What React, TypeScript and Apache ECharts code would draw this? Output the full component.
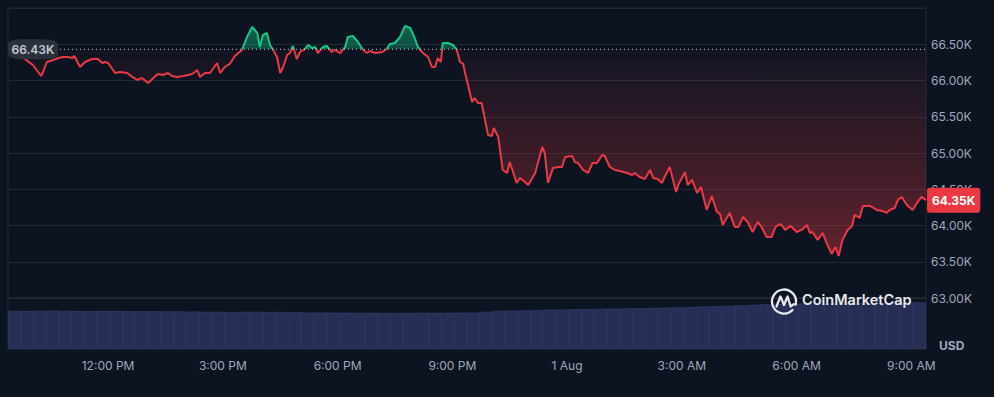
import React, { useEffect, useRef } from "react";
import * as echarts from "echarts";

// minutes after 9:00 AM, 31 Jul
const times = [
  23, 39, 55, 62, 75, 78, 84, 94, 102, 109, 117, 124, 127, 136, 144, 155, 164, 171, 175, 180,
  191, 199, 210, 218, 226, 233, 243, 251, 258, 266, 274, 280, 288, 298, 312, 320, 324, 332, 340, 351,
  356, 363, 371, 379, 390,
  398, 406, 414, 418, 423, 429, 434, 439, 445, 450, 454, 461, 465, 470, 476, 481, 489, 494, 500, 505,
  509, 517, 523, 531, 536, 544, 552, 556, 564, 572, 580, 586, 591, 599, 610, 617, 622, 630, 638, 646,
  654, 661, 666, 674, 682, 688, 693, 697, 702, 705, 713, 721, 727, 732, 737, 740,
  751, 755, 760, 766, 776, 782, 785, 792, 799, 806, 810, 821, 826, 834, 839, 850, 861, 865, 870, 878,
  886, 892, 897, 908, 912, 917, 925, 933, 940, 947, 955, 959, 967, 975, 983, 994, 1002, 1006, 1014, 1022,
  1030, 1035, 1042, 1049, 1053, 1061, 1071, 1075, 1085, 1089, 1096, 1104, 1110, 1119, 1127, 1135, 1140, 1144, 1155, 1163,
  1169, 1176, 1184, 1191, 1199, 1205, 1213, 1221, 1227, 1235, 1242, 1251, 1260, 1268, 1276, 1281, 1285, 1293, 1301, 1307,
  1315, 1321, 1326, 1332, 1340, 1347, 1351, 1359, 1364, 1375, 1386, 1394, 1401, 1406, 1414, 1419, 1425, 1433, 1442, 1450,
  1456, 1463,
];

const prices = [
  66430, 66366, 66260, 66214, 66062, 66117, 66255, 66283, 66310, 66324, 66324, 66310, 66338, 66186, 66255, 66297, 66297, 66242, 66255, 66242,
  66104, 66117, 66104, 66049, 66007, 66035, 65966, 66035, 66090, 66076, 66104, 66062, 66049, 66062, 66090, 66145, 66049, 66104, 66104, 66242,
  66104, 66186, 66230, 66338, 66421,
  66600, 66738, 66655, 66462, 66628, 66655, 66490, 66421, 66324, 66104, 66173, 66352, 66379, 66476, 66297, 66393, 66435, 66490, 66448, 66462,
  66379, 66462, 66476, 66393, 66421, 66379, 66462, 66600, 66614, 66531, 66421, 66379, 66407, 66379, 66393, 66435, 66504, 66517, 66600, 66752,
  66724, 66586, 66462, 66379, 66324, 66186, 66186, 66310, 66255, 66517, 66517, 66490, 66421, 66255, 66228, 66104,
  65704, 65759, 65690, 65690, 65248, 65235, 65345, 65221, 64766, 64725, 64876, 64587, 64656, 64600, 64559, 64725, 65083, 65000, 64587, 64794,
  64807, 64807, 64945, 64959, 64876, 64863, 64766, 64725, 64863, 64863, 64973, 64959, 64807, 64766, 64752, 64725, 64697, 64725, 64669, 64642,
  64766, 64656, 64642, 64587, 64669, 64807, 64463, 64573, 64738, 64559, 64628, 64449, 64532, 64214, 64407, 64187, 64159, 64007, 64173, 63980,
  63980, 64118, 64035, 63911, 64049, 63980, 63842, 63842, 63980, 64021, 63939, 63994, 63911, 63939, 64007, 63897, 63911, 63801, 63897, 63760,
  63608, 63704, 63580, 63801, 63939, 63994, 64145, 64104, 64270, 64270, 64214, 64201, 64173, 64214, 64242, 64352, 64394, 64283, 64214, 64325,
  64394, 64350,
];

const baselinePrice = 66430;

// 24h volume (billion USD), one bar per 20 minutes
const volumes = [
  29.9, 29.8, 29.9, 30.0, 29.9, 29.8, 29.7, 29.8, 29.8, 29.7, 29.6, 29.6, 29.5, 29.5, 29.4,
  29.2, 29.1, 29.0, 29.1, 29.2, 29.0, 28.9, 28.8,
  28.6, 28.6, 28.5, 28.5, 28.4, 28.4, 28.3, 28.3, 28.3, 28.4, 28.4, 28.5, 28.5, 28.6, 29.2,
  29.9, 30.1, 30.3, 30.6, 30.9, 31.0, 31.2, 31.3, 31.5, 31.7, 31.8, 32.0, 32.2, 32.4, 32.6, 32.9,
  33.3, 33.6, 33.9, 34.2, 34.6, 35.0, 35.3, 35.5, 35.7, 35.8, 35.9, 36.0, 36.1, 36.2, 36.3, 36.4, 36.5, 36.6,
];

// x-axis tick positions (minutes after 9:00 AM, 31 Jul) and their labels
const tickMinutes = [180, 360, 540, 720, 900, 1080, 1260, 1440];
const tickLabels = ["12:00 PM", "3:00 PM", "6:00 PM", "9:00 PM", "1 Aug", "3:00 AM", "6:00 AM", "9:00 AM"];

const GREEN = "#16c784";
const RED = "#ea3943";
const BG = "#0d1421";
const LABEL = "#a1a7bb";
const GRIDLINE = "#222935";

const fmtK = (v: number) => (v / 1000).toFixed(2) + "K";

const logoPath =
  "M 8.5 8.5 A 12 12 0 1 1 11.6 3.1 M -7.5 5 L -3.6 -5 L 0 3.5 L 3.6 -5 L 6.6 5 L 9.8 2.6";

export default function App() {
  const ref = useRef<HTMLDivElement>(null);

  useEffect(() => {
    if (!ref.current) return;
    try {
      echarts.graphic.registerShape("cmclogo", echarts.graphic.extendPath(logoPath, {}) as any);
    } catch (e) {}
    const chart = echarts.init(ref.current, null, { renderer: "svg" });

    const n = Math.min(times.length, prices.length);
    const ps = prices.slice(0, n);
    const priceData = [];
    for (let i = 0; i < n; i++) priceData.push([times[i], prices[i]]);
    const xMin = times[0];
    const xMax = times[n - 1];

    const lineMax = Math.max(...ps);
    const lineMin = Math.min(...ps);
    const lineOff = (lineMax - baselinePrice) / (lineMax - lineMin);
    const lineColor = new echarts.graphic.LinearGradient(0, 0, 0, 1, [
      { offset: 0, color: GREEN },
      { offset: lineOff, color: GREEN },
      { offset: lineOff, color: RED },
      { offset: 1, color: RED },
    ]);

    const areaMax = Math.max(lineMax, baselinePrice);
    const areaMin = Math.min(lineMin, baselinePrice);
    const off = (areaMax - baselinePrice) / (areaMax - areaMin);
    const areaColor = new echarts.graphic.LinearGradient(0, 0, 0, 1, [
      { offset: 0, color: "rgba(22,199,132,0.45)" },
      { offset: off, color: "rgba(22,199,132,0.32)" },
      { offset: off, color: "rgba(234,57,67,0.02)" },
      { offset: 1, color: "rgba(234,57,67,0.38)" },
    ]);

    chart.setOption({
      animation: false,
      backgroundColor: BG,
      textStyle: { fontFamily: "Inter, 'Noto Sans', sans-serif" },
      grid: [
        { left: 8, right: 68, top: 8, bottom: 99, show: true, borderColor: GRIDLINE, borderWidth: 1 },
        { left: 8, right: 68, top: 298, bottom: 48, show: true, borderColor: GRIDLINE, borderWidth: 1 },
      ],
      xAxis: [
        {
          type: "value", gridIndex: 0, min: xMin, max: xMax,
          axisLine: { show: false }, axisTick: { show: false }, axisLabel: { show: false }, splitLine: { show: false },
        },
        {
          type: "value", gridIndex: 1, min: xMin, max: xMax,
          axisLine: { show: false }, axisTick: { show: false }, splitLine: { show: false },
          axisLabel: {
            customValues: tickMinutes,
            formatter: (v: number) => {
              const i = tickMinutes.indexOf(v);
              return i >= 0 ? tickLabels[i] : "";
            },
            color: LABEL, fontSize: 12, margin: 10,
          },
        },
        {
          type: "category", gridIndex: 1, data: volumes.map((_, i) => String(i)),
          show: false, boundaryGap: true,
        },
      ],
      yAxis: [
        {
          type: "value", gridIndex: 0, position: "right", min: 63000, max: 67000, interval: 500,
          axisLine: { show: false }, axisTick: { show: false },
          splitLine: { lineStyle: { color: GRIDLINE, width: 1 } },
          axisLabel: { formatter: fmtK, color: LABEL, fontSize: 12, margin: 5, showMaxLabel: false },
        },
        {
          type: "value", gridIndex: 1, min: 0, max: 40, show: false,
        },
      ],
      series: [
        {
          type: "line", xAxisIndex: 0, yAxisIndex: 0, data: priceData, z: 3,
          showSymbol: false, symbol: "none",
          lineStyle: { width: 2, color: lineColor },
          itemStyle: { color: RED },
          areaStyle: { origin: baselinePrice, color: areaColor, opacity: 1 },
          endLabel: {
            show: true,
            formatter: (p: any) => fmtK(p.value[1]),
            backgroundColor: RED, color: "#ffffff", fontWeight: "bold", fontSize: 12,
            padding: [7, 5, 6, 5], borderRadius: 3, distance: 1,
          },
        },
        {
          type: "line", xAxisIndex: 0, yAxisIndex: 0, z: 4,
          data: [[xMin, baselinePrice], [xMax, baselinePrice]],
          showSymbol: false, symbol: "none", silent: true,
          lineStyle: { color: "rgba(255,255,255,0.75)", width: 1, type: [1, 3] },
          markPoint: {
            symbol: "roundRect", symbolSize: [50, 20], symbolOffset: [25, 0], silent: true,
            itemStyle: { color: "rgba(44,49,62,0.95)" },
            label: { show: true, position: "inside", formatter: fmtK(baselinePrice), color: "#c4c8d2", fontSize: 12, fontWeight: 600 },
            data: [{ coord: [xMin, baselinePrice] }],
          },
        },
        {
          type: "bar", xAxisIndex: 2, yAxisIndex: 1, data: volumes, z: 1,
          barCategoryGap: "0%", silent: true,
          itemStyle: { color: "#272e55", borderColor: "rgba(62,72,122,0.8)", borderWidth: 0.6 },
        },
      ],
      graphic: [
        {
          type: "cmclogo", x: 784, y: 301.5, silent: true, z: 10,
          style: { stroke: "#e6e8ee", fill: null, lineWidth: 2.3, lineCap: "round", lineJoin: "round" },
        },
        {
          type: "text", left: 802, top: 292, silent: true, z: 10,
          style: { text: "CoinMarketCap", fill: "#e6e8ee", font: "600 14.5px Inter, sans-serif" },
        },
        {
          type: "text", left: 939, top: 339, silent: true,
          style: { text: "USD", fill: LABEL, font: "bold 12px Inter, sans-serif" },
        },
      ],
    });

    return () => chart.dispose();
  }, []);

  return (
    <div
      ref={ref}
      style={{ position: "fixed", left: 0, top: 0, width: 994, height: 397, background: BG }}
    />
  );
}
